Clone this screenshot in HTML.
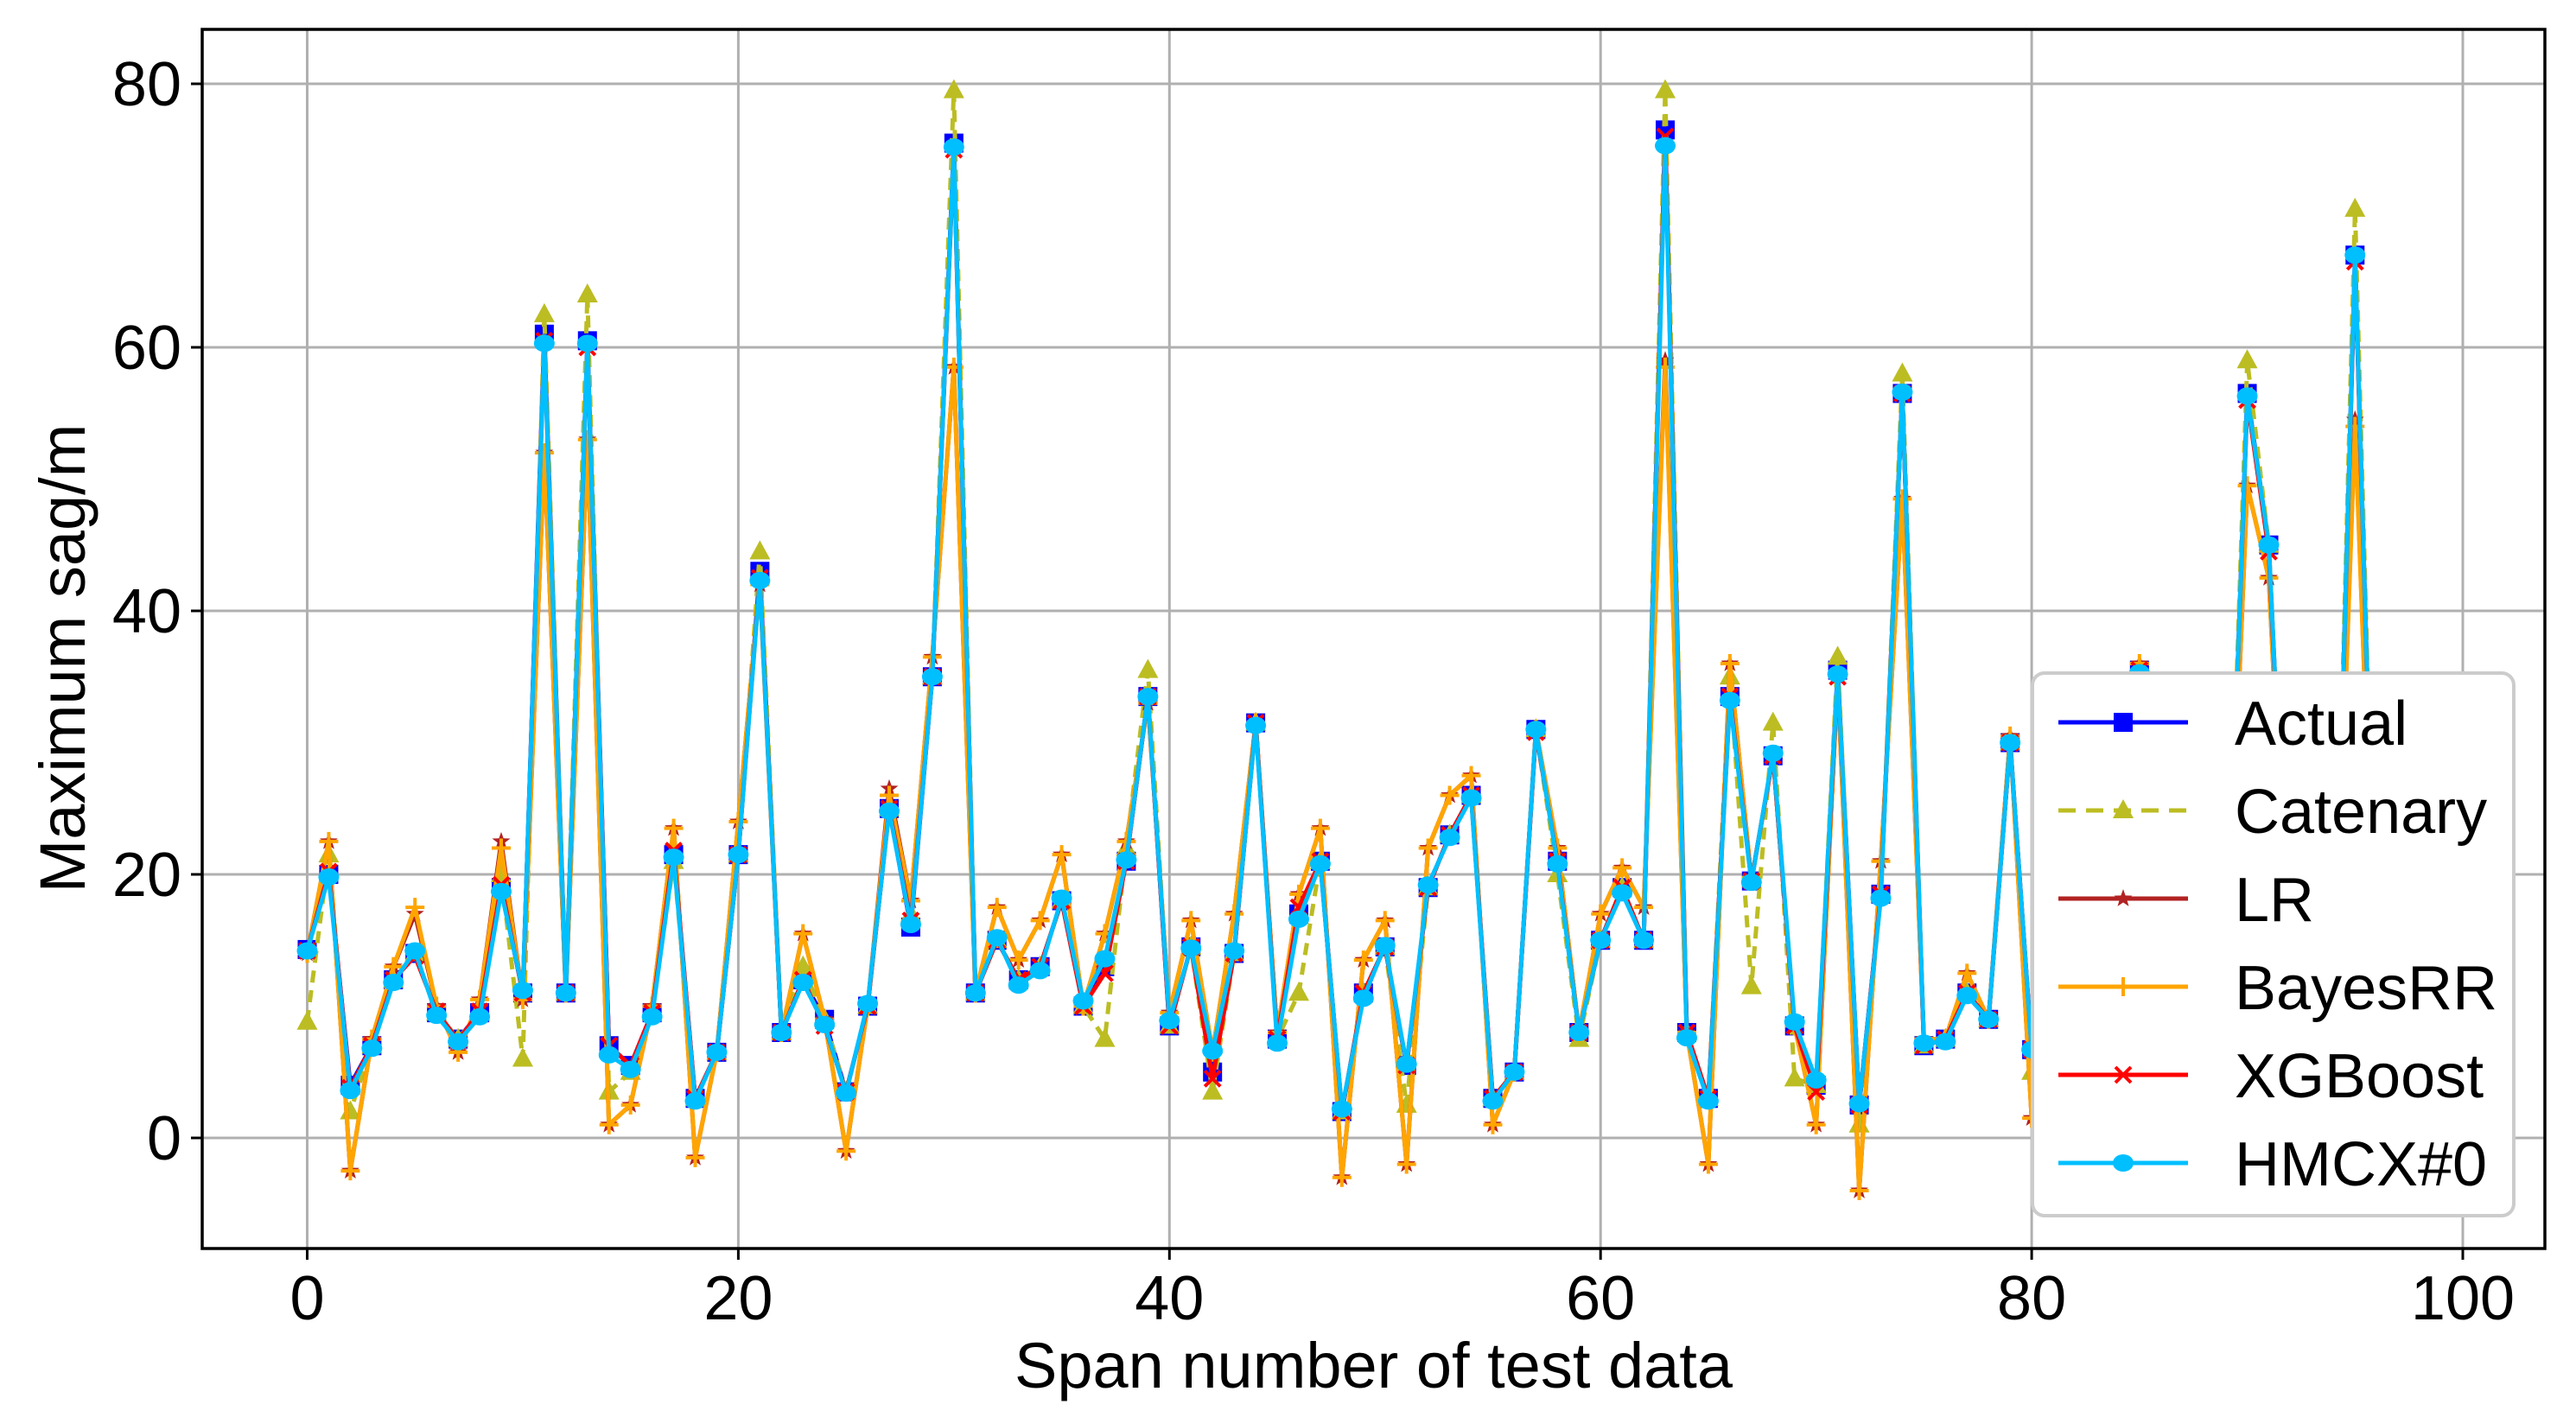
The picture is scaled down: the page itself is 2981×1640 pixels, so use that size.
<!DOCTYPE html>
<html><head><meta charset="utf-8"><style>
html,body{margin:0;padding:0;background:#fff;}
svg{display:block;font-family:"Liberation Sans",Arial,sans-serif;}
</style></head><body>
<svg id="chart" width="2981" height="1640" viewBox="0 0 2981 1640" xmlns="http://www.w3.org/2000/svg">
<rect width="2981" height="1640" fill="#fff"/>
<g id="grid"></g>
<g id="series"></g>
<g id="axes"></g>
<g id="legend"></g>
</svg>
<script>
const xTicks=[0,20,40,60,80,100];
const yTicks=[0,20,40,60,80];
const actual=[14.3,20,4,7,12,14,9.5,7.5,9.5,19,11,61,11,60.5,7,5.5,9.5,21.5,3,6.5,21.5,43,8,12,9,3.5,10,25,16,35,75.5,11,15,12,13,18,10,13,21,33.5,8.5,14.5,5,14,31.5,7.5,17,21,2,11,14.5,5.5,19,23,26,3,5,31,21,8,15,19,15,76.5,8,3,33.5,19.5,29,8.5,4,35.5,2.5,18.5,56.5,7,7.5,11,9,30,6.7,10,15,8,20,35.5,12,8,20,10,56.5,45,10,15,8,67,10,15,8,12];
const catenary=[8.8,21.5,2,7,12,14,9.5,7.5,9.5,20,6,62.5,11,64,3.5,5,9.5,21,3,6.5,21.5,44.5,8,13,9,3.5,10,25,17,35,79.5,11,15,12,13,18,10,7.5,22,35.5,8.5,14.5,3.5,14,31.5,7.5,11,21,2,11,14.5,2.5,19,23,26,3,5,31,20,7.5,15,19,15,79.5,8,3,35,11.5,31.5,4.5,4,36.5,1,18.5,58,7,7.5,11,9,30,5,10,15,8,20,35.5,12,8,20,10,59,45,10,15,8,70.5,10,15,8,12];
const bayesRR=[14,22.5,-2.5,7.5,13,17.5,10,6.5,10.5,22,10.5,52,11,53,1,2.5,10,23.5,-1.5,6.5,24,42,8,15.5,9,-1,10,26,18,36.5,58.5,11,17.5,13.5,16.5,21.5,10,15.5,22.5,33,9.5,16.5,6.5,17,31.5,8,18.5,23.5,-3,13.5,16.5,-2,22,26,27.5,1,5,31,22,8,17,20.5,17.5,58.5,8,-2,36,19.5,29,8.5,1,35,-4,21,48.5,7.5,7.5,12.5,9,30.5,1.5,10,15,8,20,36,12,8,20,10,49.5,42.5,10,15,8,54,10,15,8,12];
const lr=[14,22.5,-2.5,7.5,13,17,10,6.5,10.5,22.5,10.5,52,11,53,1,2.5,10,23.5,-1.5,6.5,24,42,8,15.5,9,-1,10,26.5,18,36.5,58.5,11,17.5,13.5,16.5,21.5,10,15.5,22.5,33,9.5,16.5,6.5,17,31.5,8,18.5,23.5,-3,13.5,16.5,-2,22,26,27.5,1,5,31,22,8,17,20.5,17.5,59,8,-2,36,19.5,29,8.5,1,35,-4,21,48.5,7.5,7.5,12.5,9,30.5,1.5,10,15,8,20,36,12,8,20,10,49.5,42.5,10,15,8,54.5,10,15,8,12];
const xgboost=[14.2,20.2,3.8,7,12,13.8,9.6,7.4,9.6,19.2,11,60.5,11,60,7,5.5,9.5,21.8,3,6.5,21.5,42.5,8,12,8.5,3.5,10,25,16.5,35,75,11,15,12,13,18,10,12.5,21,33.5,8.5,14.5,4.5,14,31.5,7.5,17.5,21,2,11,14.5,5.5,19,23,26,3,5,30.8,21,8,15,19,15,76,8,3,33.5,19.5,29,8.5,3.5,35,2.5,18.5,56.5,7,7.5,11,9,30,6.7,10,15,8,20,35.5,12,8,20,10,56,44.5,10,15,8,66.5,10,15,8,12];
const hmcx=[14.2,19.8,3.6,6.8,11.8,14.2,9.3,7.3,9.2,18.7,11.2,60.3,11,60.3,6.3,5.2,9.2,21.3,2.8,6.5,21.5,42.3,8,11.8,8.6,3.4,10.2,24.8,16.2,35,75.2,11,15.2,11.6,12.7,18.2,10.4,13.6,21.1,33.5,8.9,14.4,6.6,14.2,31.3,7.2,16.6,20.8,2.2,10.6,14.6,5.6,19.2,22.8,25.8,2.8,5,31,20.8,8,15,18.6,15,75.3,7.6,2.8,33.2,19.4,29.2,8.8,4.4,35.2,2.6,18.2,56.6,7.2,7.3,10.8,9,30,6.7,10,15,8,20,35.3,12,8,20,10,56.3,45,10,15,8,67,10,15,8,12];

const NS="http://www.w3.org/2000/svg";
const L=234,R=2945,T=34,B=1445;
const X=v=>355.5+(2850-355.5)*v/100;
const Y=v=>1317-(1317-97)*v/80;
function mk(tag,attrs,parent){const e=document.createElementNS(NS,tag);for(const k in attrs)e.setAttribute(k,attrs[k]);parent.appendChild(e);return e;}
const grid=document.getElementById('grid'),axes=document.getElementById('axes'),ser=document.getElementById('series'),leg=document.getElementById('legend');
xTicks.forEach(t=>{
  const g=mk('line',{x1:X(t),x2:X(t),y1:T,y2:B,stroke:'#b0b0b0','stroke-width':3},grid);
  
  
  const tk=mk('line',{x1:X(t),x2:X(t),y1:B,y2:B+13,stroke:'#000','stroke-width':3},axes);
  
  
  const tx=mk('text',{x:X(t),y:1527,'font-size':72,'text-anchor':'middle',fill:'#000'},axes);
  tx.textContent=t;
  
  
});
yTicks.forEach(t=>{
  const g=mk('line',{x1:L,x2:R,y1:Y(t),y2:Y(t),stroke:'#b0b0b0','stroke-width':3},grid);
  
  
  const tk=mk('line',{x1:L-13,x2:L,y1:Y(t),y2:Y(t),stroke:'#000','stroke-width':3},axes);
  
  
  const tx=mk('text',{x:L-24,y:Y(t)+25,'font-size':72,'text-anchor':'end',fill:'#000'},axes);
  tx.textContent=t;
  
  
});
const frame=mk('rect',{x:L,y:T,width:R-L,height:B-T,fill:'none',stroke:'#000','stroke-width':3.5},axes);


const xl=mk('text',{x:(L+R)/2,y:1606,'font-size':74,'text-anchor':'middle',fill:'#000'},axes);
xl.textContent='Span number of test data';


const yl=mk('text',{x:0,y:0,'font-size':74,'text-anchor':'middle',fill:'#000',transform:'translate(98,762) rotate(-90)'},axes);
yl.textContent='Maximum sag/m';



function marker(type,x,y,color,parent){
  const s=11;
  if(type==='square') return mk('rect',{x:x-s,y:y-s,width:2*s,height:2*s,fill:color},parent);
  if(type==='tri') return mk('polygon',{points:`${x},${y-s-2} ${x-s-1},${y+s-2} ${x+s+1},${y+s-2}`,fill:color},parent);
  if(type==='circle') return mk('ellipse',{cx:x,cy:y,rx:s+1,ry:s-1,fill:color},parent);
  if(type==='plus') return mk('path',{d:`M${x-s},${y}H${x+s}M${x},${y-s}V${y+s}`,stroke:color,'stroke-width':4,fill:'none'},parent);
  if(type==='x') return mk('path',{d:`M${x-s+2},${y-s+2}L${x+s-2},${y+s-2}M${x-s+2},${y+s-2}L${x+s-2},${y-s+2}`,stroke:color,'stroke-width':4,fill:'none'},parent);
  if(type==='star'){let p=[];for(let i=0;i<10;i++){const r=i%2?4.5:11,a=-Math.PI/2+i*Math.PI/5;p.push((x+r*Math.cos(a)).toFixed(1)+','+(y+r*Math.sin(a)).toFixed(1));}return mk('polygon',{points:p.join(' '),fill:color},parent);}
}
const seriesDefs=[
 {name:'Actual',data:actual,color:'#0000ff',m:'square',dash:null,key:'actual'},
 {name:'Catenary',data:catenary,color:'#bcbd22',m:'tri',dash:'14 9',key:'catenary'},
 {name:'LR',data:lr,color:'#b22222',m:'star',dash:null,key:'lr'},
 {name:'BayesRR',data:bayesRR,color:'#ffa500',m:'plus',dash:null,key:'bayesrr'},
 {name:'XGBoost',data:xgboost,color:'#ff0000',m:'x',dash:null,key:'xgboost'},
 {name:'HMCX#0',data:hmcx,color:'#00bfff',m:'circle',dash:null,key:'hmcx'}
];
seriesDefs.forEach(s=>{
  const g=mk('g',{},ser);
  
  
  const pts=s.data.map((v,i)=>X(i).toFixed(1)+','+Y(v).toFixed(1)).join(' ');
  const pl=mk('polyline',{points:pts,fill:'none',stroke:s.color,'stroke-width':5,'stroke-linejoin':'round'},g);
  if(s.dash) pl.setAttribute('stroke-dasharray',s.dash);
  
  
  s.data.forEach((v,i)=>{
    const mm=marker(s.m,X(i),Y(v),s.color,g);
    
    
  });
});
// legend
const lb=mk('rect',{x:2352,y:779,width:557,height:628,rx:14,fill:'#fff',stroke:'#cccccc','stroke-width':4},leg);


seriesDefs.forEach((s,i)=>{
  const y=836+i*102;
  const g=mk('g',{},leg);
  
  
  const ln=mk('line',{x1:2382,x2:2532,y1:y,y2:y,stroke:s.color,'stroke-width':5},g);
  if(s.dash) ln.setAttribute('stroke-dasharray','20 12');
  marker(s.m,2457,y,s.color,g);
  const t=mk('text',{x:2586,y:y+26,'font-size':72,fill:'#000'},g);
  t.textContent=s.name;
});
</script>
</body></html>
